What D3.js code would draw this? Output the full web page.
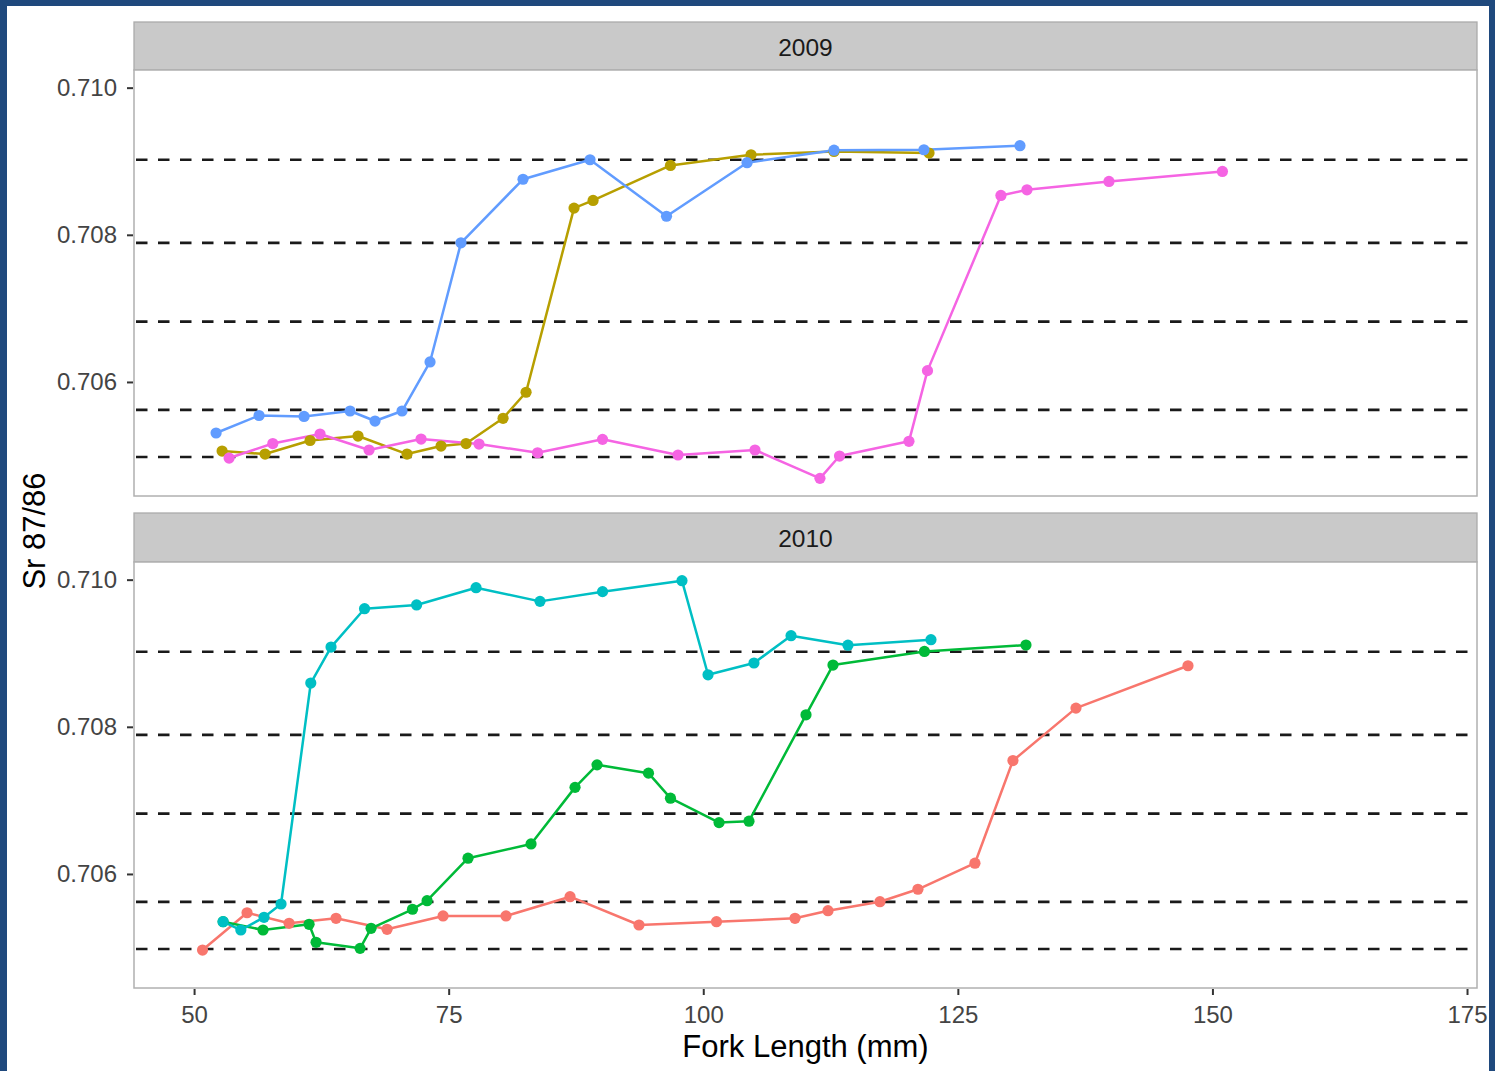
<!DOCTYPE html>
<html>
<head>
<meta charset="utf-8">
<script src="https://cdn.jsdelivr.net/npm/d3@7"></script>
<style>
  html, body { margin: 0; padding: 0; background: #ffffff; }
  svg { display: block; font-family: "Liberation Sans", Arial, Helvetica, sans-serif; }
</style>
</head>
<body>
<svg id="chart" width="1495" height="1071"></svg>
<script>
// ---------- data ----------
const facetYears = ["2009", "2010"];
const xTickValues = [50, 75, 100, 125, 150, 175];
const yTickValues = [0.706, 0.708, 0.710];
const referenceLines = [0.70902, 0.70789, 0.70682, 0.70562, 0.70498];

// 2009 series
const olive2009X = [52.75, 56.97, 61.39, 66.10, 70.91, 74.25, 76.71, 80.34, 82.60, 87.31, 89.18, 96.78, 104.69, 112.84, 122.17];
const olive2009Y = [0.705061, 0.705020, 0.705204, 0.705265, 0.705020, 0.705129, 0.705163, 0.705506, 0.705860, 0.708363, 0.708467, 0.708943, 0.709088, 0.709133, 0.709112];
const blue2009X = [52.16, 56.38, 60.80, 65.32, 67.77, 70.42, 73.17, 76.21, 82.30, 88.88, 96.39, 104.30, 112.84, 121.67, 131.10];
const blue2009Y = [0.705306, 0.705544, 0.705531, 0.705605, 0.705469, 0.705605, 0.706272, 0.707891, 0.708755, 0.709020, 0.708252, 0.708980, 0.709150, 0.709156, 0.709211];
const pink2009X = [53.44, 57.73, 62.37, 67.18, 72.29, 77.98, 83.73, 90.11, 97.52, 105.08, 111.46, 113.38, 120.20, 122.02, 129.23, 131.79, 139.84, 150.98];
const pink2009Y = [0.704966, 0.705163, 0.705293, 0.705075, 0.705224, 0.705156, 0.705038, 0.705220, 0.705007, 0.705075, 0.704690, 0.704993, 0.705193, 0.706154, 0.708535, 0.708612, 0.708725, 0.708861];

// 2010 series
const red2010X = [50.83, 55.20, 59.33, 63.94, 68.95, 74.45, 80.63, 86.92, 93.69, 101.30, 109.01, 112.25, 117.35, 121.08, 126.68, 130.41, 136.60, 147.60];
const red2010Y = [0.704966, 0.705473, 0.705329, 0.705397, 0.705248, 0.705429, 0.705429, 0.705691, 0.705306, 0.705351, 0.705397, 0.705501, 0.705623, 0.705792, 0.706146, 0.707541, 0.708254, 0.708830];
const green2010X = [52.85, 56.77, 61.29, 61.98, 66.30, 67.38, 71.45, 72.88, 76.90, 83.09, 87.41, 89.57, 94.62, 96.78, 101.55, 104.49, 110.09, 112.74, 121.72, 131.69];
const green2010Y = [0.705351, 0.705238, 0.705316, 0.705071, 0.704989, 0.705261, 0.705520, 0.705637, 0.706214, 0.706408, 0.707177, 0.707483, 0.707370, 0.707030, 0.706698, 0.706717, 0.708163, 0.708839, 0.709024, 0.709112];
const cyan2010X = [52.85, 54.59, 56.87, 58.54, 61.46, 63.45, 66.74, 71.85, 77.69, 83.97, 90.11, 97.91, 100.47, 104.98, 108.62, 114.21, 122.36];
const cyan2010Y = [0.705351, 0.705238, 0.705411, 0.705592, 0.708595, 0.709084, 0.709605, 0.709656, 0.709891, 0.709705, 0.709837, 0.709986, 0.708707, 0.708867, 0.709238, 0.709109, 0.709184];

const seriesColors = ["#F8766D", "#B79F00", "#00BA38", "#00BFC4", "#619CFF", "#F564E3"];

function zipSeries(xs, ys) { return xs.map((x, i) => ({ x: x, y: ys[i] })); }

// draw order follows factor level order (as ggplot does)
const panels = [
  { year: facetYears[0], series: [
      { color: seriesColors[1], pts: zipSeries(olive2009X, olive2009Y) },
      { color: seriesColors[4], pts: zipSeries(blue2009X, blue2009Y) },
      { color: seriesColors[5], pts: zipSeries(pink2009X, pink2009Y) } ] },
  { year: facetYears[1], series: [
      { color: seriesColors[0], pts: zipSeries(red2010X, red2010Y) },
      { color: seriesColors[2], pts: zipSeries(green2010X, green2010Y) },
      { color: seriesColors[3], pts: zipSeries(cyan2010X, cyan2010Y) } ] }
];

// ---------- layout ----------
const W = 1495, H = 1071;
const svg = d3.select("#chart");
svg.append("rect").attr("x", 0).attr("y", 0).attr("width", W).attr("height", H).attr("fill", "#ffffff");

const frameColor = "#1f497d";
svg.append("rect").attr("x", 0).attr("y", 0).attr("width", W).attr("height", 6).attr("fill", frameColor);
svg.append("rect").attr("x", 0).attr("y", 0).attr("width", 7).attr("height", H).attr("fill", frameColor);
svg.append("rect").attr("x", 1489).attr("y", 0).attr("width", W - 1489).attr("height", H).attr("fill", frameColor);

const panelLeft = 134, panelRight = 1477;
const panelGeom = [
  { stripTop: 22, top: 70, bottom: 496 },
  { stripTop: 513, top: 562, bottom: 988 }
];

const x = d3.scaleLinear().domain([44.1, 175.98]).range([panelLeft, panelRight]);
const yDomain = [0.70445, 0.71024];

const line = (ys) => d3.line().x(d => x(d.x)).y(d => ys(d.y));

panels.forEach((p, i) => {
  const g = panelGeom[i];
  const y = d3.scaleLinear().domain(yDomain).range([g.bottom, g.top]);

  // strip
  svg.append("rect")
    .attr("x", panelLeft).attr("y", g.stripTop)
    .attr("width", panelRight - panelLeft).attr("height", g.top - g.stripTop)
    .attr("fill", "#c9c9c9").attr("stroke", "#ababab").attr("stroke-width", 1.3);
  svg.append("text")
    .attr("x", (panelLeft + panelRight) / 2).attr("y", (g.stripTop + g.top) / 2)
    .attr("dy", "0.4em").attr("text-anchor", "middle")
    .attr("font-size", 24.5).attr("fill", "#1a1a1a")
    .text(p.year);

  // panel background
  svg.append("rect")
    .attr("x", panelLeft).attr("y", g.top)
    .attr("width", panelRight - panelLeft).attr("height", g.bottom - g.top)
    .attr("fill", "#ffffff");

  const clipId = "clip" + i;
  svg.append("clipPath").attr("id", clipId).append("rect")
    .attr("x", panelLeft).attr("y", g.top)
    .attr("width", panelRight - panelLeft).attr("height", g.bottom - g.top);

  const plot = svg.append("g").attr("clip-path", `url(#${clipId})`);

  // reference dashed lines
  plot.selectAll("line.ref").data(referenceLines).enter().append("line")
    .attr("class", "ref")
    .attr("x1", panelLeft + 2).attr("x2", panelRight)
    .attr("y1", d => y(d)).attr("y2", d => y(d))
    .attr("stroke", "#1a1a1a").attr("stroke-width", 2.6)
    .attr("stroke-dasharray", "11.5,10.5");

  // lines
  p.series.forEach(s => {
    plot.append("path").datum(s.pts)
      .attr("d", line(y))
      .attr("fill", "none").attr("stroke", s.color)
      .attr("stroke-width", 2.5).attr("stroke-linejoin", "round");
  });
  // points
  p.series.forEach(s => {
    plot.selectAll(null).data(s.pts).enter().append("circle")
      .attr("cx", d => x(d.x)).attr("cy", d => y(d.y))
      .attr("r", 5.6).attr("fill", s.color);
  });

  // panel border
  svg.append("rect")
    .attr("x", panelLeft).attr("y", g.top)
    .attr("width", panelRight - panelLeft).attr("height", g.bottom - g.top)
    .attr("fill", "none").attr("stroke", "#b0b0b0").attr("stroke-width", 1.5);

  // y axis
  const yAxis = d3.axisLeft(y).tickValues(yTickValues).tickFormat(d3.format(".3f"))
    .tickSize(6).tickPadding(10);
  const ya = svg.append("g").attr("transform", `translate(${panelLeft - 1},0)`).call(yAxis);
  ya.select(".domain").remove();
  ya.selectAll(".tick line").attr("stroke", "#333333").attr("stroke-width", 2);
  ya.selectAll(".tick text").attr("font-size", 24).attr("fill", "#444444")
    .attr("font-family", "'Liberation Sans', Arial, sans-serif");

  if (i === 1) {
    const xAxis = d3.axisBottom(x).tickValues(xTickValues).tickFormat(d3.format("d"))
      .tickSize(6).tickPadding(11);
    const xa = svg.append("g").attr("transform", `translate(0,${g.bottom + 1})`).call(xAxis);
    xa.select(".domain").remove();
    xa.selectAll(".tick line").attr("stroke", "#333333").attr("stroke-width", 2);
    xa.selectAll(".tick text").attr("font-size", 24).attr("fill", "#444444")
      .attr("font-family", "'Liberation Sans', Arial, sans-serif");
  }
});

// axis titles
svg.append("text")
  .attr("x", (panelLeft + panelRight) / 2).attr("y", 1057)
  .attr("text-anchor", "middle").attr("font-size", 31).attr("fill", "#000000")
  .text("Fork Length (mm)");
svg.append("text")
  .attr("transform", "translate(45,531) rotate(-90)")
  .attr("text-anchor", "middle").attr("font-size", 31).attr("fill", "#000000")
  .text("Sr 87/86");
</script>
</body>
</html>
